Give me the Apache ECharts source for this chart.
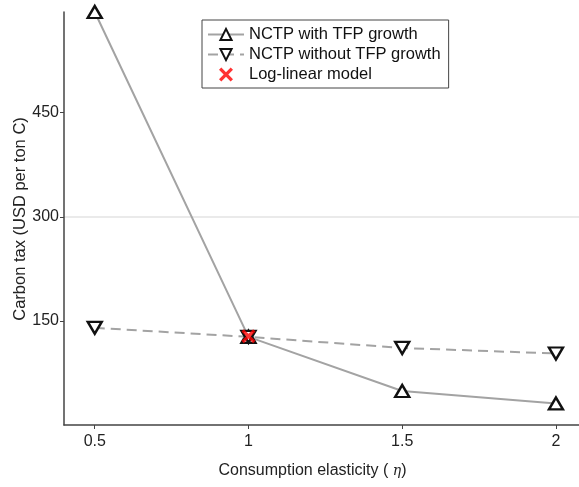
<!DOCTYPE html>
<html>
<head>
<meta charset="utf-8">
<script src="https://cdn.jsdelivr.net/npm/echarts@6/dist/echarts.min.js"></script>
<style>
  html, body { margin: 0; padding: 0; background: #fff; }
  #chart { width: 579px; height: 487px; }
</style>
</head>
<body>
<div id="chart"></div>
<script>
// Consumption elasticity values (eta)
const eta = [0.5, 1, 1.5, 2];
// Carbon tax, USD per ton C
const withTFP = [595, 127, 49, 31];
const withoutTFP = [140, 127, 111, 103];
// Log-linear model estimate
const logLinear = [[1, 128]];
const xTicks = [0.5, 1, 1.5, 2];
const yTicks = [150, 300, 450];
const yTitle = 'Carbon tax (USD per ton C)';

const FONT = '"Liberation Sans", Arial, Helvetica, sans-serif';
const crossPath = 'path://M2,0 L6,4 L10,0 L12,2 L8,6 L12,10 L10,12 L6,8 L2,12 L0,10 L4,6 L0,2 Z';

const chart = echarts.init(document.getElementById('chart'), null, { renderer: 'canvas' });

const markerStyle = { color: '#ffffff', borderColor: '#111111', borderWidth: 2.4 };

chart.setOption({
  animation: false,
  backgroundColor: '#ffffff',
  grid: { left: 64, right: 0, top: 12, bottom: 62, outerBoundsMode: 'none', containLabel: false },
  // vertical y-axis title, placed beside the tick labels
  graphic: [{
    type: 'text',
    x: 20,
    y: 219,
    rotation: Math.PI / 2,
    style: {
      text: yTitle,
      fontFamily: FONT,
      fontSize: 16.5,
      fill: '#222222',
      align: 'center',
      verticalAlign: 'middle'
    }
  }],
  legend: {
    orient: 'vertical',
    left: 202,
    top: 20,
    width: 246,
    padding: [6, 8, 5, 5],
    itemGap: 3,
    itemWidth: 36,
    itemHeight: 14,
    borderColor: '#444444',
    borderWidth: 1,
    backgroundColor: '#ffffff',
    textStyle: { fontFamily: FONT, fontSize: 16.5, color: '#111111', padding: [0, 0, 0, 0] },
    data: ['NCTP with TFP growth', 'NCTP without TFP growth', 'Log-linear model']
  },
  xAxis: {
    type: 'value',
    min: 0.4,
    max: 2.075,
    name: 'Consumption elasticity ( {eta|η})',
    nameLocation: 'middle',
    nameGap: 38,
    nameTextStyle: {
      fontFamily: FONT, fontSize: 16, color: '#222222', padding: [0, 18, 0, 0],
      rich: { eta: { fontFamily: '"DejaVu Serif", "Liberation Serif", serif', fontStyle: 'italic', fontSize: 14, color: '#222222' } }
    },
    axisLine: { show: true, lineStyle: { color: '#444444', width: 1.5 } },
    axisTick: { show: true, length: 4, customValues: xTicks, lineStyle: { color: '#444444', width: 1 } },
    axisLabel: { customValues: xTicks, fontFamily: FONT, fontSize: 16, color: '#222222', margin: 9,
      formatter: v => String(v) },
    splitLine: { show: false }
  },
  yAxis: {
    type: 'value',
    min: 0,
    max: 595,
    interval: 150,
    axisLine: { show: true, lineStyle: { color: '#444444', width: 1.5 } },
    axisTick: { show: true, length: 4, customValues: yTicks, lineStyle: { color: '#444444', width: 1 } },
    axisLabel: { customValues: yTicks, fontFamily: FONT, fontSize: 16, color: '#222222', margin: 5 },
    splitLine: { show: true, showMinLine: false, showMaxLine: false, lineStyle: { color: '#e3e3e3', width: 1.5 } }
  },
  series: [
    {
      name: 'NCTP with TFP growth',
      type: 'line',
      data: eta.map((x, i) => [x, withTFP[i]]),
      symbol: 'triangle',
      symbolSize: [14, 12],
      clip: false,
      lineStyle: { color: '#a3a3a3', width: 2 },
      itemStyle: markerStyle,
      z: 2
    },
    {
      name: 'NCTP without TFP growth',
      type: 'line',
      data: eta.map((x, i) => [x, withoutTFP[i]]),
      symbol: 'triangle',
      symbolRotate: 180,
      symbolSize: [14, 12],
      clip: false,
      lineStyle: { color: '#a3a3a3', width: 2, type: [10, 6] },
      itemStyle: markerStyle,
      z: 3
    },
    {
      name: 'Log-linear model',
      type: 'scatter',
      data: logLinear,
      symbol: crossPath,
      symbolSize: 14,
      itemStyle: { color: '#ff0000' },
      z: 5
    }
  ]
});
</script>
</body>
</html>
